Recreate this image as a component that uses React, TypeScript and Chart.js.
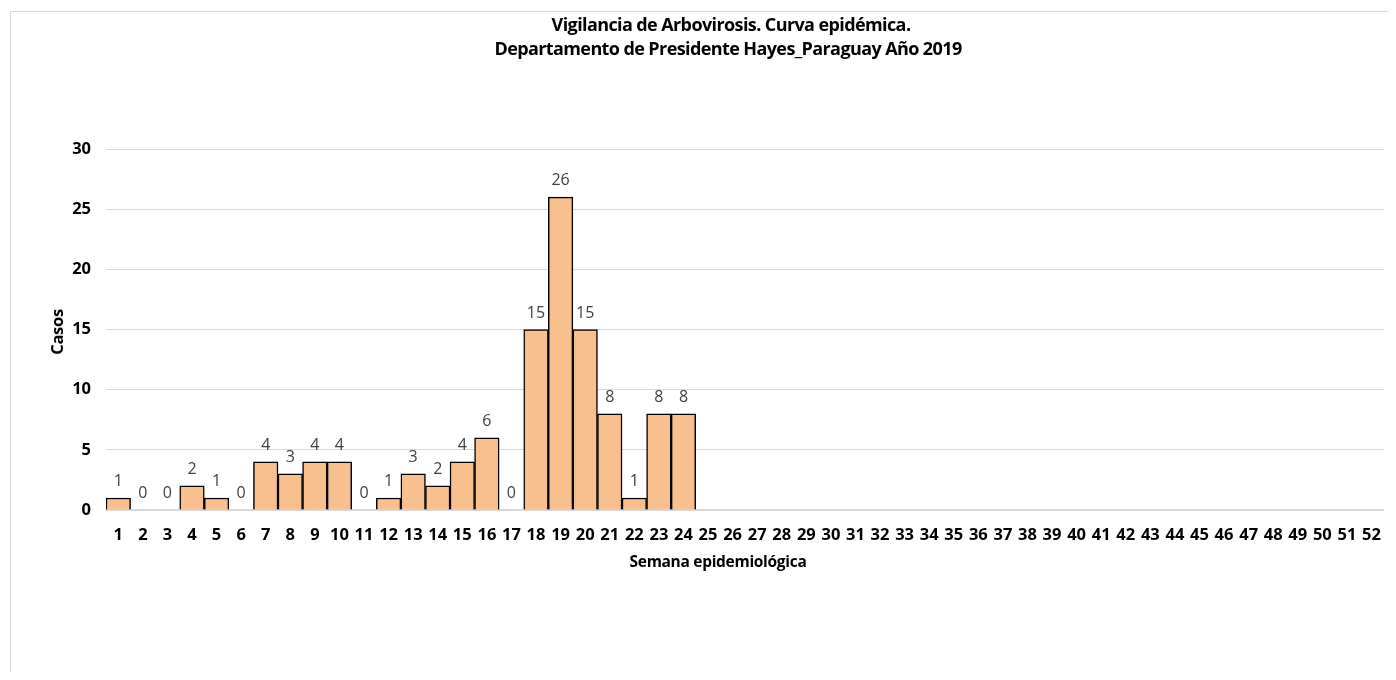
import React, { useEffect, useRef } from "react";
import { Chart, registerables } from "chart.js";
Chart.register(...registerables);

const weeks = [
  "1","2","3","4","5","6","7","8","9","10","11","12","13","14","15","16","17","18","19","20",
  "21","22","23","24","25","26","27","28","29","30","31","32","33","34","35","36","37","38","39","40",
  "41","42","43","44","45","46","47","48","49","50","51","52",
];
const cases: (number | null)[] = [
  1, 0, 0, 2, 1, 0, 4, 3, 4, 4, 0, 1, 3, 2, 4, 6, 0, 15, 26, 15, 8, 1, 8, 8,
  null, null, null, null, null, null, null, null, null, null, null, null, null, null,
  null, null, null, null, null, null, null, null, null, null, null, null, null, null,
];
const yTicks = [0, 5, 10, 15, 20, 25, 30];
const titleLines = ["Vigilancia de Arbovirosis. Curva epidémica.", "Departamento de Presidente Hayes_Paraguay Año 2019"];
const xTitle = "Semana epidemiológica";
const yTitle = "Casos";

const SANS = '"Open Sans", sans-serif';

const textPlugin = {
  id: "customText",
  afterDatasetsDraw(chart: any) {
    const ctx = chart.ctx as CanvasRenderingContext2D;
    ctx.save();
    // data labels
    const meta = chart.getDatasetMeta(0);
    ctx.font = `16px ${SANS}`;
    ctx.fillStyle = "#404040";
    ctx.textAlign = "center";
    ctx.textBaseline = "alphabetic";
    meta.data.forEach((bar: any, i: number) => {
      const v = cases[i];
      if (v === null || v === undefined) return;
      ctx.fillText(String(v), bar.x, bar.y - 12);
    });
    // main title
    ctx.fillStyle = "#000";
    ctx.font = `bold 18px ${SANS}`;
    (ctx as any).letterSpacing = "-0.6px";
    ctx.fillText(titleLines[0], 723, 23);
    ctx.fillText(titleLines[1], 720, 47);
    (ctx as any).letterSpacing = "0px";
    // x title
    ctx.font = `bold 15.5px ${SANS}`;
    (ctx as any).letterSpacing = "-0.3px";
    ctx.fillText(xTitle, 710, 559);
    // y title
    ctx.font = `bold 16.5px ${SANS}`;
    ctx.translate(55, 324);
    ctx.rotate(-Math.PI / 2);
    ctx.fillText(yTitle, 0, 0);
    (ctx as any).letterSpacing = "0px";
    ctx.restore();
  },
};

export default function App() {
  const ref = useRef<HTMLCanvasElement>(null);
  useEffect(() => {
    document.body.style.overflow = "hidden";
    const chart = new Chart(ref.current!, {
      type: "bar",
      data: {
        labels: weeks,
        datasets: [
          {
            data: cases as any,
            backgroundColor: "#F8C08F",
            borderColor: "#000000",
            borderWidth: 1.5,
            barPercentage: 1,
            categoryPercentage: 1,
          },
        ],
      },
      options: {
        animation: false,
        responsive: false,
        maintainAspectRatio: false,
        layout: { padding: { left: 0, right: 8, top: 141, bottom: 0 } },
        plugins: { legend: { display: false }, title: { display: false }, tooltip: { enabled: false } },
        scales: {
          x: {
            grid: { display: false, drawTicks: false },
            border: { display: true, color: "#d9d9d9", width: 2 },
            ticks: {
              autoSkip: false,
              maxRotation: 0,
              minRotation: 0,
              padding: 15,
              color: "#000",
              font: { family: SANS, size: 16.5, weight: "bold" },
            },
            afterFit: (s: any) => { s.height = 162; },
          },
          y: {
            min: 0,
            max: 30,
            afterBuildTicks: (s: any) => { s.ticks = yTicks.map((v) => ({ value: v })); },
            grid: { color: "#d9d9d9", lineWidth: 1, drawTicks: false },
            border: { display: false },
            ticks: {
              padding: 15,
              color: "#000",
              font: { family: SANS, size: 16.5, weight: "bold" },
            },
            afterFit: (s: any) => { s.width = 98; },
          },
        },
      },
      plugins: [textPlugin],
    });
    return () => chart.destroy();
  }, []);
  return (
    <div style={{ position: "relative", width: 1388, height: 664 }}>
      <div
        style={{
          position: "absolute",
          left: 2,
          top: 3,
          width: 1386,
          height: 669,
          borderTop: "1px solid #d9d9d9",
          borderLeft: "1px solid #d9d9d9",
          boxSizing: "border-box",
        }}
      />
      <canvas ref={ref} width={1388} height={664} style={{ position: "absolute", left: 0, top: 0, width: 1388, height: 664 }} />
    </div>
  );
}
